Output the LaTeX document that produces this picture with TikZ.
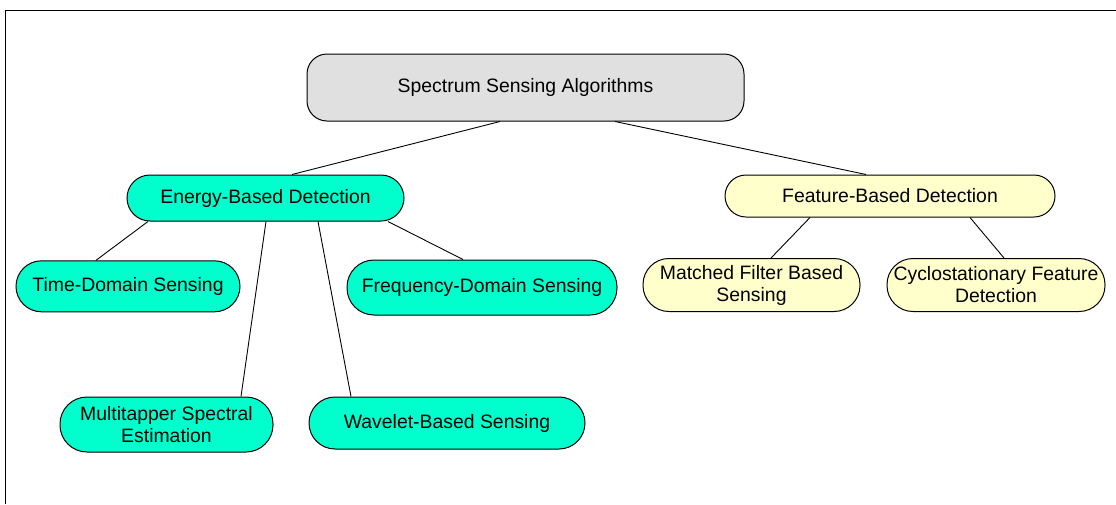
\documentclass[tikz,border=0pt]{standalone}
\usepackage{fontspec}
\setmainfont{Liberation Sans}
\begin{document}
\begin{tikzpicture}[x=1pt,y=-1pt,
  box/.style={draw=black, line width=1pt, inner sep=0pt, align=center,
    font=\fontsize{19.4}{22}\selectfont},
  energybox/.style={box, fill=aqua},
  featbox/.style={box, fill=paleyellow},
  link/.style={draw=black, line width=0.9pt}]
\definecolor{aqua}{RGB}{0,255,204}
\definecolor{paleyellow}{RGB}{255,255,204}
\definecolor{rootgray}{RGB}{224,224,224}
\useasboundingbox (0,0) rectangle (1116,504);
% page frame (top and left edges)
\draw[line width=1.9pt, black] (5.5,504) -- (5.5,10.5) -- (1116,10.5);

% root
\node[box, fill=rootgray, rounded corners=20pt, minimum width=437pt, minimum height=67pt]
  (root) at (525.5,87.5) {Spectrum Sensing Algorithms};

% second level
\node[energybox, rounded corners=23pt, minimum width=277pt, minimum height=46pt]
  (energy) at (265.5,198) {Energy-Based Detection};
\node[featbox, rounded corners=21pt, minimum width=330pt, minimum height=42pt]
  (feature) at (890,196) {Feature-Based Detection};

% energy-based children
\node[energybox, rounded corners=25.5pt, minimum width=224pt, minimum height=51pt]
  (time) at (128,286.3) {Time-Domain Sensing};
\node[energybox, rounded corners=27pt, minimum width=270pt, minimum height=55pt]
  (freq) at (482,287.5) {Frequency-Domain Sensing};
\node[energybox, rounded corners=27pt, minimum width=213pt, minimum height=55pt]
  (multi) at (166.5,424.5) {Multitapper Spectral\\Estimation};
\node[energybox, rounded corners=26pt, minimum width=276pt, minimum height=52pt]
  (wavelet) at (447,423) {Wavelet-Based Sensing};

% feature-based children
\node[featbox, rounded corners=26pt, minimum width=217pt, minimum height=53pt]
  (matched) at (751.5,285) {Matched Filter Based\\Sensing};
\node[featbox, rounded corners=26pt, minimum width=218pt, minimum height=53pt]
  (cyclo) at (996,285) {Cyclostationary Feature\\Detection};

% connectors
\draw[link] ([xshift=-25.5pt]root.south) -- ([xshift=26.5pt]energy.north);
\draw[link] ([xshift=89.5pt]root.south) -- ([xshift=-24pt]feature.north);
\draw[link] ([xshift=-117.5pt]energy.south) -- ([xshift=-32pt]time.north);
\draw[link] ([xshift=0.5pt]energy.south) -- ([xshift=74.5pt]multi.north);
\draw[link] ([xshift=52.5pt]energy.south) -- ([xshift=-96pt]wavelet.north);
\draw[link] ([xshift=122.5pt]energy.south) -- ([xshift=-19pt]freq.north);
\draw[link] ([xshift=-80pt]feature.south) -- ([xshift=19.5pt]matched.north);
\draw[link] ([xshift=80pt]feature.south) -- ([xshift=8pt]cyclo.north);
\end{tikzpicture}
\end{document}
